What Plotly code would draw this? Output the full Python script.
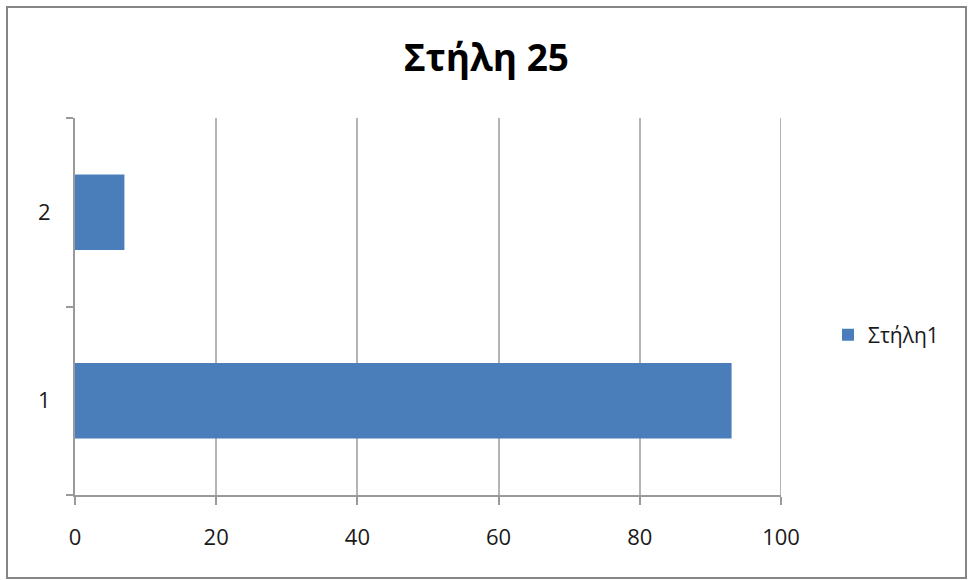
import plotly.graph_objects as go

# Data
categories = ["1", "2"]
values = [93, 7]
series_name = "Στήλη1"
chart_title = "Στήλη 25"
x_ticks = [0, 20, 40, 60, 80, 100]

W, H = 969, 580
L, R, T, B = 75, 188, 118, 85

fig = go.Figure()
fig.add_trace(go.Bar(
    y=categories,
    x=values,
    orientation="h",
    name=series_name,
    width=0.4,
    marker=dict(color="#4a7ebb", line=dict(width=0)),
    showlegend=True,
))

font_family = "Open Sans, Noto Sans, DejaVu Sans, sans-serif"

fig.update_layout(
    width=W,
    height=H,
    margin=dict(l=L, r=R, t=T, b=B, pad=0),
    paper_bgcolor="white",
    plot_bgcolor="white",
    font=dict(family=font_family, size=22, color="#1a1a1a"),
    title=dict(
        text="<b>" + chart_title + "</b>",
        x=0.502, xanchor="center",
        y=1 - 58 / H, yanchor="middle", yref="container",
        font=dict(family=font_family, size=37, color="#000000"),
    ),
    legend=dict(
        x=(828 - L) / (W - L - R), xanchor="left",
        y=(H - B - 335) / (H - T - B), yanchor="middle",
        font=dict(size=21, color="#1a1a1a"),
        bgcolor="rgba(0,0,0,0)",
        itemwidth=30,
    ),
    xaxis=dict(
        range=[0, 100],
        tickvals=x_ticks,
        ticktext=[str(v) for v in x_ticks],
        showgrid=True,
        gridcolor="#b4b4b4",
        gridwidth=2,
        showline=True,
        linecolor="#9a9a9a",
        linewidth=2,
        ticks="outside",
        ticklen=8,
        tickwidth=2,
        tickcolor="#9a9a9a",
        ticklabelstandoff=14,
        zeroline=False,
        fixedrange=True,
    ),
    yaxis=dict(
        type="category",
        categoryorder="array",
        categoryarray=categories,
        range=[-0.5, 1.5],
        showgrid=False,
        showline=True,
        linecolor="#9a9a9a",
        linewidth=2,
        ticks="outside",
        tickson="boundaries",
        ticklen=7,
        tickwidth=2,
        tickcolor="#9a9a9a",
        ticklabelstandoff=18,
        zeroline=False,
        fixedrange=True,
    ),
    bargap=0.6,
)

# Gridline at the end of the value axis
fig.add_shape(
    type="line", xref="x", yref="paper",
    x0=x_ticks[-1], x1=x_ticks[-1], y0=0, y1=1,
    line=dict(color="#b4b4b4", width=2),
    layer="below",
)

# Outer chart frame
pw, ph = W - L - R, H - T - B
fig.add_shape(
    type="rect", xref="paper", yref="paper",
    x0=(7 - L) / pw, x1=(966 - L) / pw,
    y0=(H - B - 578) / ph, y1=(H - B - 7) / ph,
    line=dict(color="#858585", width=2),
    fillcolor="rgba(0,0,0,0)",
    layer="below",
)

fig.write_html("out.html")
